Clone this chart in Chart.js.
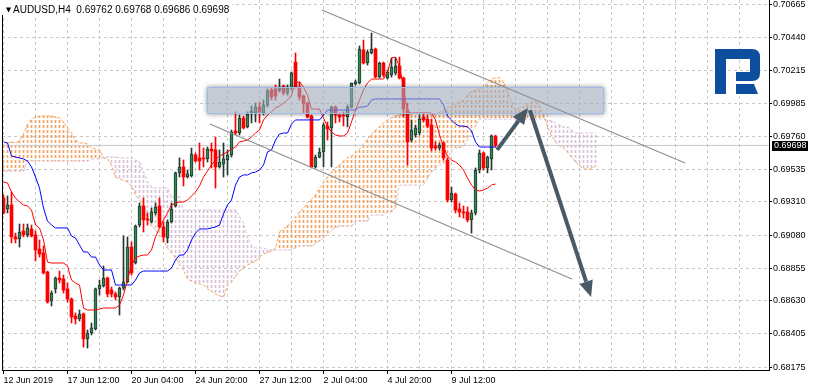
<!DOCTYPE html>
<html>
<head>
<meta charset="utf-8">
<script src="https://cdn.jsdelivr.net/npm/chart.js@4.4.1/dist/chart.umd.min.js"></script>
<style>
  html, body { margin: 0; padding: 0; background: #fff; }
  #wrap { position: relative; width: 815px; height: 391px; }
</style>
</head>
<body>
<div id="wrap"><canvas id="chart"></canvas></div>
<script>
// AUDUSD H4 candles, first visible bar 12 Jun 2019 20:00
const open = [
  0.69337,0.69261,0.69289,0.69069,0.69055,0.69110,0.69083,0.69124,0.69083,0.68986,
  0.68959,0.68828,0.68629,0.68712,0.68787,0.68780,0.68712,0.68643,0.68526,0.68506,
  0.68540,0.68368,0.68409,0.68437,0.68712,0.68732,0.68787,0.68705,0.68677,0.68657,
  0.68718,0.68760,0.69000,0.68890,0.69151,0.69282,0.69193,0.69172,0.69234,0.69282,
  0.69138,0.69062,0.69172,0.69282,0.69509,0.69550,0.69481,0.69488,0.69632,0.69612,
  0.69612,0.69605,0.69673,0.69667,0.69550,0.69570,0.69598,0.69632,0.69797,0.69783,
  0.69886,0.69825,0.69921,0.69921,0.69962,0.69921,0.69976,0.70079,0.70086,0.70079,
  0.70106,0.70058,0.70092,0.70271,0.70099,0.70038,0.69989,0.69900,0.69550,0.69618,
  0.69653,0.69831,0.69818,0.69962,0.69907,0.69907,0.69893,0.69962,0.70120,0.70127,
  0.70354,0.70264,0.70333,0.70360,0.70168,0.70264,0.70161,0.70182,0.70196,0.70244,
  0.70161,0.69941,0.69735,0.69770,0.69783,0.69893,0.69879,0.69838,0.69694,0.69680,
  0.69715,0.69598,0.69323,0.69364,0.69261,0.69241,0.69241,0.69186,0.69234,0.69529,
  0.69646,0.69543,0.69605,0.69762
];
const high = [
  0.69357,0.69351,0.69378,0.69096,0.69158,0.69158,0.69158,0.69151,0.69110,0.69048,
  0.69007,0.68835,0.68698,0.68794,0.68835,0.68808,0.68753,0.68650,0.68547,0.68567,
  0.68547,0.68430,0.68478,0.68718,0.68773,0.68870,0.68794,0.68725,0.68691,0.68725,
  0.69076,0.69069,0.69035,0.69151,0.69302,0.69337,0.69234,0.69268,0.69302,0.69337,
  0.69172,0.69186,0.69302,0.69515,0.69612,0.69598,0.69529,0.69680,0.69646,0.69715,
  0.69680,0.69687,0.69715,0.69756,0.69667,0.69715,0.69667,0.69804,0.69928,0.69907,
  0.69900,0.69928,0.69969,0.69989,0.69996,0.70010,0.70086,0.70092,0.70113,0.70154,
  0.70113,0.70113,0.70202,0.70333,0.70134,0.70044,0.69996,0.69907,0.69632,0.69680,
  0.69852,0.69859,0.69969,0.69969,0.69921,0.69928,0.69976,0.70127,0.70147,0.70381,
  0.70422,0.70354,0.70470,0.70367,0.70271,0.70271,0.70216,0.70299,0.70299,0.70305,
  0.70168,0.69989,0.69873,0.69838,0.69907,0.69921,0.69907,0.69879,0.69722,0.69715,
  0.69722,0.69612,0.69412,0.69371,0.69302,0.69282,0.69275,0.69254,0.69543,0.69667,
  0.69653,0.69625,0.69770,0.69768
];
const low = [
  0.69227,0.69234,0.69028,0.69028,0.69000,0.69069,0.69069,0.69069,0.68904,0.68931,
  0.68815,0.68615,0.68595,0.68684,0.68753,0.68684,0.68622,0.68478,0.68471,0.68492,
  0.68313,0.68306,0.68396,0.68430,0.68670,0.68725,0.68657,0.68657,0.68636,0.68533,
  0.68705,0.68753,0.68808,0.68883,0.69138,0.69103,0.69151,0.69165,0.69220,0.69131,
  0.69035,0.69028,0.69165,0.69275,0.69481,0.69419,0.69474,0.69481,0.69584,0.69529,
  0.69550,0.69584,0.69543,0.69405,0.69543,0.69481,0.69495,0.69618,0.69770,0.69770,
  0.69811,0.69818,0.69852,0.69859,0.69852,0.69907,0.69962,0.70010,0.70010,0.70065,
  0.70044,0.70044,0.70079,0.70092,0.70010,0.69921,0.69886,0.69543,0.69543,0.69612,
  0.69550,0.69735,0.69550,0.69852,0.69859,0.69831,0.69825,0.69955,0.70113,0.70120,
  0.70257,0.70250,0.70326,0.70161,0.70161,0.70168,0.70154,0.70168,0.70182,0.70154,
  0.69893,0.69563,0.69722,0.69756,0.69770,0.69859,0.69818,0.69660,0.69667,0.69667,
  0.69598,0.69309,0.69309,0.69234,0.69206,0.69199,0.69172,0.69096,0.69220,0.69509,
  0.69529,0.69509,0.69529,0.69686
];
const close = [
  0.69234,0.69289,0.69069,0.69055,0.69103,0.69083,0.69131,0.69076,0.68980,0.68952,
  0.68822,0.68622,0.68684,0.68787,0.68773,0.68705,0.68643,0.68519,0.68506,0.68540,
  0.68368,0.68409,0.68444,0.68712,0.68739,0.68787,0.68677,0.68677,0.68657,0.68718,
  0.68760,0.69000,0.68822,0.69144,0.69282,0.69186,0.69186,0.69241,0.69275,0.69138,
  0.69069,0.69172,0.69261,0.69509,0.69550,0.69481,0.69502,0.69639,0.69591,0.69591,
  0.69605,0.69673,0.69660,0.69550,0.69584,0.69605,0.69632,0.69790,0.69783,0.69886,
  0.69818,0.69914,0.69934,0.69962,0.69928,0.69976,0.70072,0.70031,0.70038,0.70099,
  0.70058,0.70092,0.70196,0.70099,0.70031,0.69983,0.69893,0.69550,0.69618,0.69653,
  0.69838,0.69811,0.69962,0.69907,0.69893,0.69900,0.69962,0.70127,0.70134,0.70360,
  0.70264,0.70340,0.70360,0.70168,0.70264,0.70182,0.70202,0.70237,0.70244,0.70161,
  0.69948,0.69722,0.69804,0.69818,0.69879,0.69873,0.69831,0.69680,0.69680,0.69701,
  0.69612,0.69323,0.69371,0.69254,0.69241,0.69234,0.69186,0.69234,0.69529,0.69646,
  0.69543,0.69618,0.69763,0.69698
];

// Ichimoku lines
const tenkan = [
  0.69447,0.69440,0.69378,0.69337,0.69309,0.69289,0.69282,0.69254,0.69151,0.69131,
  0.69048,0.68897,0.68890,0.68890,0.68890,0.68890,0.68870,0.68773,0.68753,0.68739,
  0.68581,0.68567,0.68567,0.68567,0.68574,0.68581,0.68581,0.68581,0.68581,0.68601,
  0.68670,0.68773,0.68877,0.68925,0.68938,0.68945,0.68945,0.68980,0.69069,0.69131,
  0.69186,0.69234,0.69289,0.69302,0.69309,0.69309,0.69323,0.69351,0.69378,0.69419,
  0.69481,0.69522,0.69563,0.69598,0.69625,0.69639,0.69653,0.69673,0.69687,0.69722,
  0.69728,0.69735,0.69756,0.69783,0.69804,0.69873,0.69907,0.69928,0.69955,0.69969,
  0.69989,0.70010,0.70044,0.70127,0.70134,0.70099,0.70044,0.69948,0.69948,0.69948,
  0.69886,0.69825,0.69790,0.69770,0.69763,0.69763,0.69783,0.69859,0.69941,0.70010,
  0.70079,0.70127,0.70154,0.70154,0.70154,0.70154,0.70202,0.70299,0.70305,0.70237,
  0.70099,0.69928,0.69921,0.69921,0.69921,0.69921,0.69921,0.69921,0.69873,0.69770,
  0.69687,0.69625,0.69598,0.69584,0.69563,0.69529,0.69474,0.69426,0.69392,0.69385,
  0.69392,0.69405,0.69426,0.69433
];
const kijun = [
  0.69722,0.69715,0.69625,0.69618,0.69612,0.69605,0.69591,0.69550,0.69481,0.69405,
  0.69268,0.69179,0.69151,0.69131,0.69131,0.69131,0.69131,0.69076,0.69062,0.69014,
  0.68966,0.68966,0.68931,0.68931,0.68877,0.68842,0.68842,0.68842,0.68739,0.68739,
  0.68739,0.68739,0.68739,0.68773,0.68822,0.68835,0.68835,0.68835,0.68835,0.68835,
  0.68835,0.68835,0.68856,0.68911,0.68945,0.68945,0.68980,0.69048,0.69096,0.69124,
  0.69124,0.69124,0.69131,0.69138,0.69151,0.69227,0.69289,0.69323,0.69426,0.69481,
  0.69495,0.69495,0.69509,0.69515,0.69529,0.69563,0.69653,0.69667,0.69735,0.69776,
  0.69783,0.69783,0.69845,0.69873,0.69873,0.69873,0.69873,0.69873,0.69873,0.69873,
  0.69907,0.69941,0.69941,0.69941,0.69941,0.69941,0.69941,0.69941,0.69941,0.69962,
  0.69962,0.69969,0.70010,0.70017,0.70017,0.70017,0.70017,0.70017,0.70017,0.70017,
  0.70017,0.70017,0.70017,0.70017,0.70017,0.70017,0.70017,0.70017,0.70017,0.70017,
  0.69976,0.69900,0.69873,0.69845,0.69831,0.69831,0.69825,0.69797,0.69722,0.69687,
  0.69687,0.69687,0.69687,0.69687
];
// spans run 26 bars past the last candle
const spanA = [
  0.69687,0.69715,0.69722,0.69715,0.69728,0.69776,0.69845,0.69879,0.69893,0.69900,
  0.69900,0.69900,0.69900,0.69893,0.69886,0.69859,0.69818,0.69783,0.69735,0.69715,
  0.69715,0.69708,0.69680,0.69673,0.69667,0.69612,0.69605,0.69563,0.69481,0.69467,
  0.69460,0.69447,0.69419,0.69357,0.69323,0.69268,0.69199,0.69144,0.69117,0.69076,
  0.69048,0.68993,0.68959,0.68925,0.68877,0.68842,0.68780,0.68767,0.68753,0.68746,
  0.68739,0.68712,0.68698,0.68677,0.68664,0.68657,0.68739,0.68760,0.68801,0.68835,
  0.68856,0.68877,0.68890,0.68904,0.68931,0.68952,0.68959,0.68973,0.68993,0.69103,
  0.69124,0.69144,0.69172,0.69206,0.69241,0.69268,0.69302,0.69330,0.69357,0.69405,
  0.69440,0.69481,0.69515,0.69543,0.69563,0.69591,0.69612,0.69625,0.69646,0.69673,
  0.69708,0.69742,0.69776,0.69804,0.69825,0.69852,0.69873,0.69886,0.69900,0.69907,
  0.69907,0.69914,0.69914,0.69921,0.69921,0.69921,0.69921,0.69907,0.69914,0.69928,
  0.69941,0.69955,0.69969,0.69983,0.69996,0.70010,0.70044,0.70065,0.70079,0.70086,
  0.70092,0.70127,0.70154,0.70161,0.70161,0.70134,0.70065,0.69996,0.69941,0.69955,
  0.69962,0.69983,0.69996,0.69996,0.69969,0.69907,0.69831,0.69763,0.69722,0.69694,
  0.69680,0.69653,0.69618,0.69584,0.69557,0.69536,0.69536,0.69536,0.69557
];
const spanB = [
  0.69522,0.69522,0.69522,0.69522,0.69522,0.69522,0.69591,0.69591,0.69591,0.69591,
  0.69591,0.69591,0.69591,0.69591,0.69591,0.69591,0.69591,0.69591,0.69591,0.69591,
  0.69591,0.69591,0.69605,0.69605,0.69605,0.69618,0.69618,0.69618,0.69618,0.69612,
  0.69612,0.69612,0.69612,0.69598,0.69584,0.69515,0.69447,0.69412,0.69405,0.69405,
  0.69405,0.69405,0.69344,0.69344,0.69344,0.69254,0.69254,0.69254,0.69254,0.69254,
  0.69254,0.69254,0.69254,0.69254,0.69254,0.69254,0.69254,0.69254,0.69254,0.69206,
  0.69165,0.69069,0.69007,0.68993,0.68993,0.68993,0.68980,0.68980,0.68980,0.68980,
  0.68980,0.68980,0.68980,0.68993,0.69007,0.69007,0.69007,0.69007,0.69021,0.69041,
  0.69062,0.69089,0.69117,0.69131,0.69144,0.69144,0.69144,0.69144,0.69179,0.69179,
  0.69179,0.69179,0.69220,0.69220,0.69220,0.69220,0.69241,0.69241,0.69275,0.69426,
  0.69426,0.69426,0.69426,0.69426,0.69426,0.69426,0.69474,0.69515,0.69543,0.69563,
  0.69570,0.69598,0.69667,0.69680,0.69680,0.69694,0.69735,0.69783,0.69831,0.69879,
  0.69879,0.69879,0.69879,0.69879,0.69879,0.69879,0.69879,0.69879,0.69879,0.69879,
  0.69879,0.69879,0.69879,0.69879,0.69879,0.69879,0.69873,0.69866,0.69852,0.69838,
  0.69825,0.69825,0.69804,0.69783,0.69783,0.69783,0.69783,0.69783,0.69783
];

// axis ticks
const xTickIdx = [0, 16, 32, 48, 64, 80, 96, 112];
const xTickText = ['12 Jun 2019', '17 Jun 12:00', '20 Jun 04:00', '24 Jun 20:00',
                   '27 Jun 12:00', '2 Jul 04:00', '4 Jul 20:00', '9 Jul 12:00'];
const yTicks = [0.70665, 0.70440, 0.70215, 0.69985, 0.69760, 0.69535,
                0.69310, 0.69080, 0.68855, 0.68630, 0.68405, 0.68175];

// drawn objects, in bar index / price units
const channelTop = [[79.6, 0.70628], [170.4, 0.69577]];
const channelBottom = [[51.6, 0.69845], [142.1, 0.68780]];
const zone = [50.9, 150.1, 0.70099, 0.69914];           // x from, x to, top, bottom
const arrows = [[123.4, 0.69667, 131.1, 0.69955], [131.6, 0.69941, 146.9, 0.68657]];

const last = close.length - 1;
const lastClose = close[last];
const FONT = '"Liberation Sans", Arial, sans-serif';

function hatch(color) {
    let tile = document.createElement('canvas');
    tile.width = 1;
    tile.height = 5;
    let t = tile.getContext('2d');
    t.fillStyle = color;
    t.fillRect(0, 0, 1, 3);
    return t.createPattern(tile, 'repeat');
}

const pts = arr => arr.map((v, i) => ({ x: i, y: v }));

let cloudUp = [], cloudDn = [];
spanA.forEach((a, i) => {
    (a >= spanB[i] ? cloudUp : cloudDn).push({ x: i, y: [a, spanB[i]] });
});
let wickUp = [], wickDn = [], bodyUp = [], bodyDn = [];
open.forEach((o, i) => {
    let up = close[i] >= o;
    (up ? wickUp : wickDn).push({ x: i, y: [low[i], high[i]] });
    (up ? bodyUp : bodyDn).push({ x: i, y: [o, close[i]] });
});

const overlay = {
    id: 'overlay',
    afterDatasetDraw(chart, args) {
        // the zone box sits over candles and ichimoku, under the channel
        if (chart.data.datasets[args.index].label !== 'Tenkan-sen') return;
        const { ctx, scales: { x, y } } = chart;
        let x0 = Math.round(x.getPixelForValue(zone[0])), x1 = Math.round(x.getPixelForValue(zone[1]));
        let y0 = Math.round(y.getPixelForValue(zone[2])), y1 = Math.round(y.getPixelForValue(zone[3]));
        ctx.save();
        ctx.beginPath();
        ctx.rect(0, 0, chart.width, chart.height);
        ctx.rect(x0, y0, x1 - x0, y1 - y0);
        ctx.clip('evenodd');
        ctx.shadowColor = 'rgba(0,0,0,0.45)';
        ctx.shadowBlur = 5;
        ctx.fillStyle = '#fff';
        ctx.fillRect(x0, y0, x1 - x0, y1 - y0);
        ctx.restore();
        ctx.save();
        ctx.fillStyle = 'rgba(158,170,186,0.6)';
        ctx.fillRect(x0, y0, x1 - x0, y1 - y0);
        ctx.strokeStyle = '#9dbbe6';
        ctx.lineWidth = 1;
        ctx.strokeRect(x0 + 0.5, y0 + 0.5, x1 - x0 - 1, y1 - y0 - 1);
        ctx.restore();
    },
    afterDatasetsDraw(chart) {
        const { ctx, scales: { x, y } } = chart;
        ctx.save();
        ctx.strokeStyle = '#4a5966';
        ctx.fillStyle = '#4a5966';
        ctx.lineWidth = 4;
        arrows.forEach(a => {
            let px0 = x.getPixelForValue(a[0]), py0 = y.getPixelForValue(a[1]);
            let px1 = x.getPixelForValue(a[2]), py1 = y.getPixelForValue(a[3]);
            let len = Math.hypot(px1 - px0, py1 - py0);
            let dx = (px1 - px0) / len, dy = (py1 - py0) / len;
            let bx = px1 - dx * 16, by = py1 - dy * 16;
            ctx.beginPath();
            ctx.moveTo(px0, py0);
            ctx.lineTo(bx, by);
            ctx.stroke();
            ctx.beginPath();
            ctx.moveTo(px1, py1);
            ctx.lineTo(bx - dy * 7, by + dx * 7);
            ctx.lineTo(bx + dy * 7, by - dx * 7);
            ctx.closePath();
            ctx.fill();
        });
        ctx.restore();
    },
    afterDraw(chart) {
        const { ctx, chartArea, scales: { y } } = chart;
        ctx.save();
        // left frame
        ctx.fillStyle = '#000';
        ctx.fillRect(chartArea.left, 15, 1, chartArea.bottom - 15);

        // last price label
        let py = Math.round(y.getPixelForValue(lastClose));
        ctx.fillStyle = '#000';
        ctx.fillRect(772, py - 4, 36, 10);
        ctx.fillStyle = '#fff';
        ctx.font = '9px ' + FONT;
        ctx.textBaseline = 'middle';
        ctx.fillText(lastClose.toFixed(5), 774, py + 1);

        // header
        ctx.fillStyle = '#fff';
        ctx.fillRect(0, 0, 232, 15);
        ctx.fillStyle = '#000';
        ctx.beginPath();
        ctx.moveTo(6, 7.5);
        ctx.lineTo(11, 7.5);
        ctx.lineTo(8.5, 12.5);
        ctx.closePath();
        ctx.fill();
        ctx.font = '10px ' + FONT;
        ctx.fillText('AUDUSD,H4  ' + [open[last], high[last], low[last], close[last]]
            .map(v => v.toFixed(5)).join(' '), 13, 10);

        // logo
        ctx.fillStyle = '#0d4f9e';
        ctx.beginPath();
        ctx.moveTo(715, 49);
        ctx.lineTo(752, 49);
        ctx.quadraticCurveTo(760, 49, 760, 57);
        ctx.lineTo(760, 73);
        ctx.quadraticCurveTo(760, 81, 752, 81);
        ctx.lineTo(736, 81);
        ctx.lineTo(736, 72);
        ctx.lineTo(750, 72);
        ctx.lineTo(750, 59);
        ctx.lineTo(726, 59);
        ctx.lineTo(726, 94);
        ctx.lineTo(715, 94);
        ctx.closePath();
        ctx.fill();
        ctx.beginPath();
        ctx.moveTo(736, 84);
        ctx.lineTo(754, 84);
        ctx.lineTo(758, 94);
        ctx.lineTo(736, 94);
        ctx.closePath();
        ctx.fill();
        ctx.restore();
    }
};

new Chart(document.getElementById('chart'), {
    type: 'line',
    data: {
        datasets: [
            { type: 'bar', label: 'Cloud up', data: cloudUp, backgroundColor: hatch('#f4a460'),
              borderWidth: 0, barThickness: 1, grouped: false, order: 20 },
            { type: 'bar', label: 'Cloud down', data: cloudDn, backgroundColor: hatch('#d8bfd8'),
              borderWidth: 0, barThickness: 1, grouped: false, order: 20 },
            { label: 'Senkou Span A', data: pts(spanA), borderColor: '#f4a460', borderWidth: 1,
              borderDash: [3, 2], pointRadius: 0, order: 19 },
            { label: 'Senkou Span B', data: pts(spanB), borderColor: '#d8bfd8', borderWidth: 1,
              borderDash: [3, 2], pointRadius: 0, order: 19 },
            { label: 'Bid', data: [{ x: -1, y: lastClose }, { x: 192, y: lastClose }],
              borderColor: '#c6c6c6', borderWidth: 1, pointRadius: 0, order: 17 },
            { type: 'bar', label: 'Wick up', data: wickUp, backgroundColor: '#24362d',
              borderWidth: 0, barThickness: 1, grouped: false, order: 15 },
            { type: 'bar', label: 'Wick down', data: wickDn, backgroundColor: '#ff0000',
              borderWidth: 0, barThickness: 1, grouped: false, order: 15 },
            { type: 'bar', label: 'Body up', data: bodyUp, backgroundColor: '#2e8b57',
              borderColor: '#24362d', borderWidth: 1, borderSkipped: false,
              barThickness: 3, minBarLength: 1, grouped: false, order: 14 },
            { type: 'bar', label: 'Body down', data: bodyDn, backgroundColor: '#ff0000',
              borderWidth: 0, barThickness: 3, minBarLength: 1, grouped: false, order: 14 },
            { label: 'Kijun-sen', data: pts(kijun), borderColor: '#0000ff', borderWidth: 1,
              pointRadius: 0, order: 12 },
            { label: 'Tenkan-sen', data: pts(tenkan), borderColor: '#ff0000', borderWidth: 1,
              pointRadius: 0, order: 11 },
            { label: 'Channel top', data: channelTop.map(p => ({ x: p[0], y: p[1] })),
              borderColor: '#8f8f8f', borderWidth: 1.2, pointRadius: 0, order: 2 },
            { label: 'Channel bottom', data: channelBottom.map(p => ({ x: p[0], y: p[1] })),
              borderColor: '#8f8f8f', borderWidth: 1.2, pointRadius: 0, order: 2 }
        ]
    },
    options: {
        responsive: true,
        maintainAspectRatio: false,
        devicePixelRatio: 1,
        animation: false,
        events: [],
        layout: { padding: { left: 2, top: 0, right: 0, bottom: 0 } },
        plugins: { legend: { display: false }, tooltip: { enabled: false } },
        scales: {
            x: {
                type: 'linear', min: -0.375, max: 191.375, offset: false, bounds: 'data',
                afterBuildTicks: s => {
                    s.ticks = [];
                    for (let v = 0; v <= 184; v += 8) s.ticks.push({ value: v });
                },
                afterFit: s => { s.height = 21; s.paddingLeft = 0; s.paddingRight = 0; },
                grid: { color: '#c8c8c8', offset: false, tickLength: 4, tickBorderDash: [],
                        tickColor: c => (c.tick && xTickIdx.includes(c.tick.value)) ? '#000' : 'rgba(0,0,0,0)' },
                border: { display: true, color: '#000', width: 1, dash: [3, 3] },
                ticks: {
                    autoSkip: false, maxRotation: 0, minRotation: 0, align: 'start', padding: 1,
                    color: '#000', font: { family: FONT, size: 9 },
                    callback: v => { let k = xTickIdx.indexOf(v); return k < 0 ? '' : xTickText[k]; }
                }
            },
            y: {
                type: 'linear', position: 'right', min: 0.681551, max: 0.70697, bounds: 'data',
                afterBuildTicks: s => { s.ticks = yTicks.map(v => ({ value: v })); },
                afterFit: s => { s.width = 46; s.paddingTop = 0; s.paddingBottom = 0; },
                grid: { color: '#c8c8c8', tickLength: 3, tickColor: '#000', tickBorderDash: [] },
                border: { display: true, color: '#000', width: 1, dash: [3, 3] },
                ticks: { padding: 1, color: '#000', font: { family: FONT, size: 9 },
                         callback: v => v.toFixed(5) }
            }
        }
    },
    plugins: [overlay]
});
</script>
</body>
</html>
